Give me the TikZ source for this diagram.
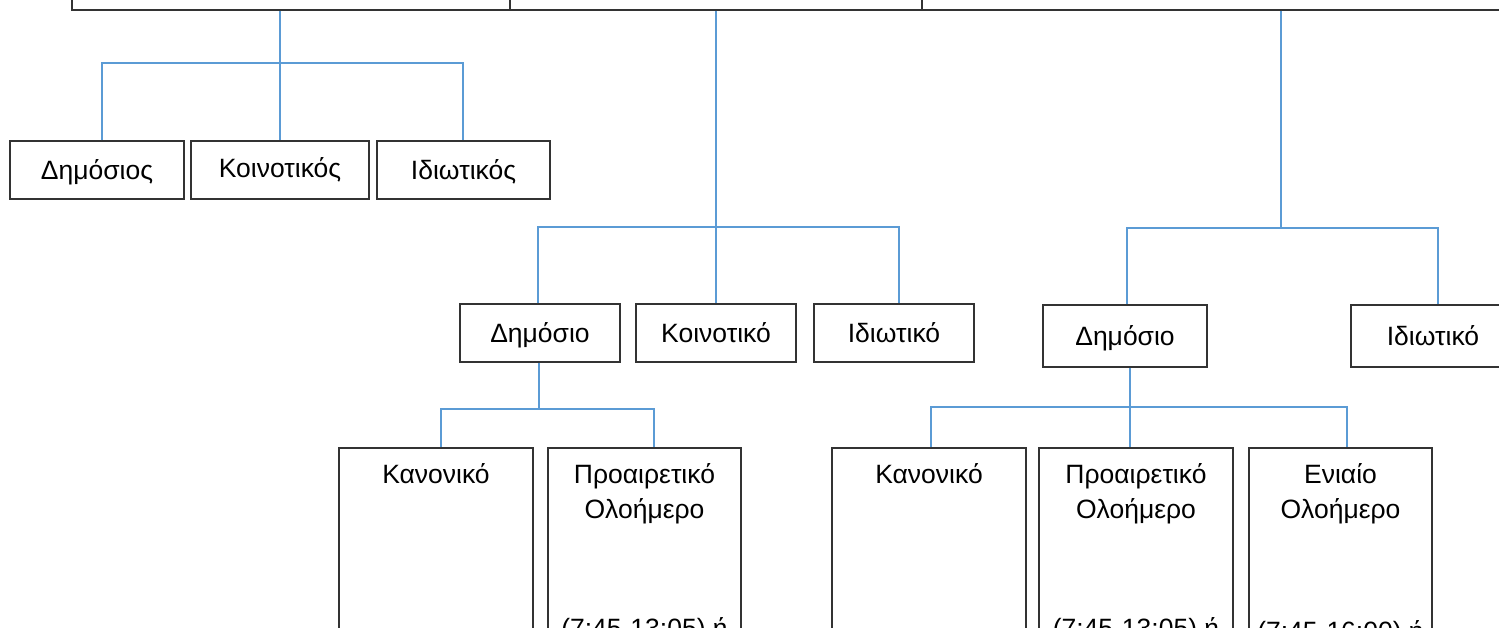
\documentclass[tikz,border=0pt]{standalone}
\usepackage{fontspec}
\setmainfont{Liberation Sans}
\definecolor{linkblue}{HTML}{5B9BD5}
\definecolor{edgegray}{HTML}{333333}
\begin{document}
\begin{tikzpicture}[x=1pt,y=-1pt,
  box/.style={draw=edgegray, line width=1.3pt, inner sep=0pt,
    font=\fontsize{26.5}{35}\selectfont, text height=19pt, text depth=0pt},
  lbl/.style={inner sep=0pt, anchor=base, font=\fontsize{26.5}{35}\selectfont},
  link/.style={draw=linkblue, line width=2pt}]
\useasboundingbox (0,0) rectangle (1499,627);
\clip (0,0) rectangle (1499,627);

% top row (cut off)
\node[box, minimum width=438, minimum height=50] (t1) at (291,-15) {};
\node[box, minimum width=412, minimum height=50] (t2) at (716,-15) {};
\node[box, minimum width=598, minimum height=50] (t3) at (1221,-15) {};

% first branch
\node[box, minimum width=174, minimum height=58] (a1) at (97,170) {Δημόσιος};
\node[box, minimum width=178, minimum height=58, text depth=5pt] (a2) at (280,170) {Κοινοτικός};
\node[box, minimum width=173, minimum height=58] (a3) at (463.5,170) {Ιδιωτικός};

% second branch
\node[box, minimum width=160, minimum height=58] (m1) at (540,333) {Δημόσιο};
\node[box, minimum width=160, minimum height=58] (m2) at (716,333) {Κοινοτικό};
\node[box, minimum width=160, minimum height=58] (m3) at (894,333) {Ιδιωτικό};

% third branch
\node[box, minimum width=164, minimum height=62] (n1) at (1125,336) {Δημόσιο};
\node[box, minimum width=164, minimum height=62] (n2) at (1433,336) {Ιδιωτικό};

% bottom boxes
\node[box, minimum width=194, minimum height=252] (b1) at (436,574) {};
\node[box, minimum width=193, minimum height=252] (b2) at (644.5,574) {};
\node[box, minimum width=194, minimum height=252] (c1) at (929,574) {};
\node[box, minimum width=194, minimum height=252] (c2) at (1136,574) {};
\node[box, minimum width=183, minimum height=252] (c3) at (1340.5,574) {};

\node[lbl] (b1t) at (436,483) {Κανονικό};
\node[lbl] (b2t) at (644.5,483) {Προαιρετικό};
\node[lbl] (b2u) at (644.5,518) {Ολοήμερο};
\node[lbl] (b2v) at (644.5,637) {(7:45-13:05) ή};
\node[lbl] (c1t) at (929,483) {Κανονικό};
\node[lbl] (c2t) at (1136,483) {Προαιρετικό};
\node[lbl] (c2u) at (1136,518) {Ολοήμερο};
\node[lbl] (c2v) at (1136,637) {(7:45-13:05) ή};
\node[lbl] (c3t) at (1340.5,483) {Ενιαίο};
\node[lbl] (c3u) at (1340.5,518) {Ολοήμερο};
\node[lbl] (c3v) at (1340.5,640) {(7:45-16:00) ή};

% connectors
\coordinate (j1) at (280,63);
\draw[link] ([xshift=5]a1.north) |- (j1) -| ([xshift=-0.5]a3.north);
\draw[link] (t1.south -| j1) -- (a2.north);

\coordinate (j2) at (716,227);
\draw[link] ([xshift=-2]m1.north) |- (j2) -| ([xshift=5]m3.north);
\draw[link] (t2.south) -- (m2.north);

\coordinate (j3) at (1281,228);
\draw[link] ([xshift=2]n1.north) |- (j3) -| ([xshift=5]n2.north);
\draw[link] (t3.south -| j3) -- (j3);

\coordinate (j4) at (539,409);
\draw[link] ([xshift=5]b1.north) |- (j4) -| ([xshift=9.5]b2.north);
\draw[link] (m1.south -| j4) -- (j4);

\coordinate (j5) at (1130,407);
\draw[link] ([xshift=2]c1.north) |- (j5) -| ([xshift=6.5]c3.north);
\draw[link] (n1.south -| j5) -- (c2.north -| j5);
\end{tikzpicture}
\end{document}
